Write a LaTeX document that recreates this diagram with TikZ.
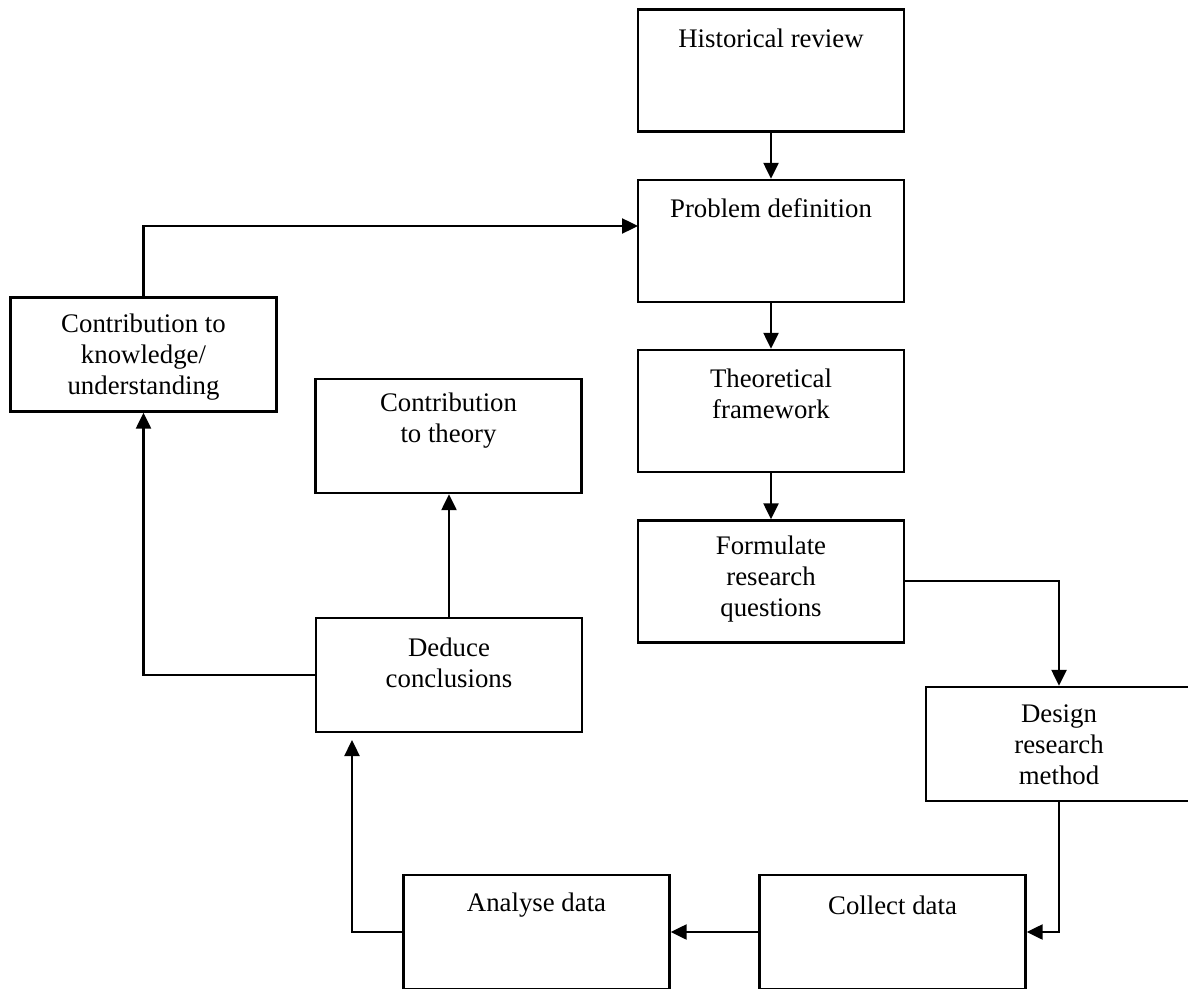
\documentclass[tikz,border=0pt]{standalone}
\usepackage{fontspec}
\setmainfont{Liberation Serif}
\usetikzlibrary{arrows.meta}
\begin{document}
\begin{tikzpicture}[x=0.5pt,y=-0.5pt,
  box/.style={draw=black,line width=1.2pt,minimum width=133pt,minimum height=57pt,inner sep=0pt},
  tallbox/.style={box,minimum height=61pt},
  txt/.style={align=center,inner sep=0pt,font=\fontsize{13.4}{15.5}\selectfont},
  conn/.style={line width=1.2pt,-{Triangle[length=8pt,width=7.5pt]}}]
\useasboundingbox (0,0) rectangle (1188,989);

% process boxes
\node[tallbox] (hist)   at (771,70.5) {};
\node[tallbox] (prob)   at (771,241)  {};
\node[tallbox] (theo)   at (771,411)  {};
\node[tallbox] (form)   at (771,581.5){};
\node[box]     (design) at (1059,744) {};
\node[box]     (collect) at (892.5,932){};
\node[box]     (analyse) at (536.5,932){};
\node[box]     (deduce) at (449,675)  {};
\node[box]     (theory) at (448.5,436){};
\node[box]     (know)   at (143.5,354.5){};

% labels
\node[txt] (thist)   at (771,38)    {Historical review};
\node[txt] (tprob)   at (771,208)   {Problem definition};
\node[txt] (ttheo)   at (771,394)   {Theoretical\\framework};
\node[txt] (tform)   at (771,579)   {Formulate\\research\\questions};
\node[txt] (tdesign) at (1059,745)  {Design\\research\\method};
\node[txt] (tcollect) at (892.5,905){Collect data};
\node[txt] (tanalyse) at (536.5,905){Analyse data};
\node[txt] (tdeduce) at (449,663)   {Deduce\\conclusions};
\node[txt] (ttheory) at (448.5,421) {Contribution\\to theory};
\node[txt] (tknow)   at (143.5,357) {Contribution to\\knowledge/\\understanding};

% bend points
\coordinate (c1) at (1059,581);
\coordinate (c2) at (1059,932);
\coordinate (c3) at (352,932);
\coordinate (c4) at (352,740);
\coordinate (c5) at (143.5,675);
\coordinate (c6) at (143.5,226);
\coordinate (c7) at (638,226);

% connectors
\draw[conn] (hist.south) -- (prob.north);
\draw[conn] (prob.south) -- (theo.north);
\draw[conn] (theo.south) -- (form.north);
\draw[conn] (form.east |- c1) -- (c1) -- (design.north);
\draw[conn] (design.south) -- (c2) -- (collect.east);
\draw[conn] (collect.west) -- (analyse.east);
\draw[conn] (analyse.west) -- (c3) -- (c4);
\draw[conn] (deduce.north) -- (deduce.north |- theory.south);
\draw[conn] (deduce.west) -- (c5) -- (know.south);
\draw[conn] (know.north) -- (c6) -- (c7);
\end{tikzpicture}
\end{document}
